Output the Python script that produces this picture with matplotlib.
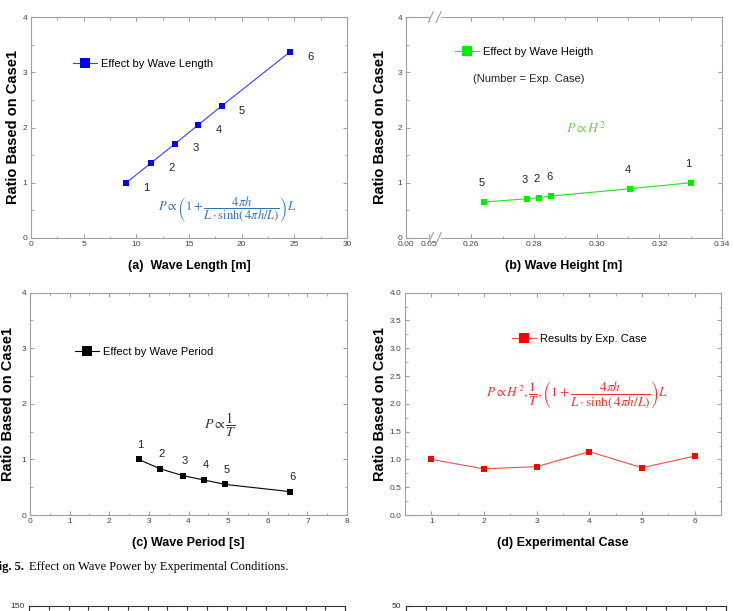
import numpy as np
import matplotlib
matplotlib.use("Agg")
import matplotlib.pyplot as plt
from matplotlib.ticker import MultipleLocator, FixedLocator, FormatStrFormatter

plt.rcParams["font.family"] = ["Liberation Sans", "DejaVu Sans"]
plt.rcParams["mathtext.fontset"] = "stix"

# ---- data ------------------------------------------------------------------
cases = [1, 2, 3, 4, 5, 6]
length = [9.05, 11.4, 13.7, 15.9, 18.1, 24.6]          # m
ratio_length = [1.0, 1.36, 1.71, 2.05, 2.39, 3.37]
height = [0.330, 0.2815, 0.2777, 0.3105, 0.264, 0.2855]  # m, by case
ratio_height = [1.0, 0.73, 0.71, 0.89, 0.65, 0.76]
period = [2.74, 3.29, 3.85, 4.39, 4.93, 6.57]          # s
ratio_period = [1.0, 0.83, 0.71, 0.63, 0.55, 0.42]
ratio_case = [1.0, 0.83, 0.87, 1.14, 0.85, 1.06]

YLABEL = "Ratio Based on Case1"
SPINE = "#a0a0a0"
TICKC = "#444444"
W, H = 733, 611
MS = 4.2


def _style(ax, xlabel, ylab_x):
    for s in ax.spines.values():
        s.set_color(SPINE)
        s.set_linewidth(0.8)
    ax.tick_params(which="both", direction="in", top=True, right=True,
                   color=SPINE, labelcolor=TICKC, labelsize=6, pad=2.5)
    ax.tick_params(which="major", length=3)
    ax.tick_params(which="minor", length=1.8)
    ax.set_ylabel(YLABEL, fontsize=10.5, fontweight="bold")
    ax.yaxis.set_label_coords(ylab_x, 0.5)
    ax.set_xlabel(xlabel, fontsize=9, fontweight="bold")
    ax.xaxis.set_label_coords(0.5, -0.10)


def _legend(ax, x, y):
    ax.legend(loc="center left", bbox_to_anchor=(x, y), frameon=False,
              fontsize=8, handlelength=2.2, handletextpad=0.3,
              borderpad=0, borderaxespad=0, markerscale=1.75)


def _ax(left, top, right, bottom):
    return fig.add_axes([left / W, (H - bottom) / H,
                         (right - left) / W, (bottom - top) / H])


fig = plt.figure(figsize=(W / 100, H / 100), dpi=100)

# (a) wave length
ax = _ax(31, 17, 347, 238)
ax.plot(length, ratio_length, "-s", color="#3c3cff", lw=0.8, ms=MS,
        markerfacecolor="#0000ff", markeredgewidth=0,
        label="Effect by Wave Length")
for c, x, y in zip(cases, length, ratio_length):
    ax.annotate(str(c), (x, y), xytext=(14.5, -3.5), textcoords="offset points",
                ha="center", va="center", fontsize=8, color="#222")
ax.set_xlim(0, 30)
ax.set_ylim(0, 4)
ax.xaxis.set_major_locator(MultipleLocator(5))
ax.xaxis.set_minor_locator(MultipleLocator(2.5))
ax.yaxis.set_major_locator(MultipleLocator(1))
ax.yaxis.set_minor_locator(MultipleLocator(0.5))
_style(ax, "(a)  Wave Length [m]", -0.036)
_legend(ax, 0.133, 0.787)
ax.text(0.62, 0.127,
        r"$P \propto \left(1+\dfrac{4\pi h}{L\cdot\sinh(\,4\pi h/L)}\right)L$",
        transform=ax.transAxes, ha="center", va="center", fontsize=9,
        color="#2E74B5")

# (b) wave height, broken axis between 0.05 and 0.25
bx = [-1.0, 0.0, 0.05, 0.25, 0.34, 1.34]
bu = [-460.0, 0.0, 23.0, 34.0, 316.6, 3456.6]


def _fwd(v):
    return np.interp(v, bx, bu)


def _inv(v):
    return np.interp(v, bu, bx)


ax = _ax(406, 17, 722, 238)
ax.set_xscale("function", functions=(_fwd, _inv))
order = np.argsort(height)
ax.plot(np.array(height)[order], np.array(ratio_height)[order], "-s",
        color="#22e022", lw=0.8, ms=MS, markerfacecolor="#00ee00",
        markeredgewidth=0, label="Effect by Wave Heigth")
for c, x, y in zip(cases, height, ratio_height):
    ax.annotate(str(c), (x, y), xytext=(-1.5, 13.7), textcoords="offset points",
                ha="center", va="center", fontsize=8, color="#222")
ax.set_xlim(0, 0.34)
ax.set_ylim(0, 4)
ax.xaxis.set_major_locator(FixedLocator([0, 0.05, 0.26, 0.28, 0.30, 0.32, 0.34]))
ax.xaxis.set_minor_locator(FixedLocator([0.27, 0.29, 0.31, 0.33]))
ax.xaxis.set_major_formatter(FormatStrFormatter("%.2f"))
ax.yaxis.set_major_locator(MultipleLocator(1))
ax.yaxis.set_minor_locator(MultipleLocator(0.5))
_style(ax, "(b) Wave Height [m]", -0.06)
_legend(ax, 0.155, 0.843)
ax.text(0.212, 0.718, "(Number = Exp. Case)", transform=ax.transAxes,
        ha="left", va="center", fontsize=8, color="#222")
ax.text(0.57, 0.499, r"$P \propto H^2$", transform=ax.transAxes,
        ha="center", va="center", fontsize=10, color="#6FCF4F")
# break marks on top and bottom spines
f0 = _fwd(0.05) / _fwd(0.34)
f1 = _fwd(0.25) / _fwd(0.34)
for yy in (0.0, 1.0):
    ax.plot([f0 + 0.006, f1 - 0.004], [yy, yy], color="white", lw=2.5,
            transform=ax.transAxes, clip_on=False, zorder=5)
    for xx in (f0 + 0.006, f1 - 0.004):
        ax.plot([xx - 0.008, xx + 0.008], [yy - 0.025, yy + 0.025],
                color=SPINE, lw=0.8, transform=ax.transAxes, clip_on=False,
                zorder=6)

# (c) wave period
ax = _ax(30, 292.7, 347, 515)
ax.plot(period, ratio_period, "-s", color="black", lw=0.8, ms=MS,
        markeredgewidth=0, label="Effect by Wave Period")
for c, x, y in zip(cases, period, ratio_period):
    ax.annotate(str(c), (x, y), xytext=(1.2, 10.5), textcoords="offset points",
                ha="center", va="center", fontsize=8, color="#222")
ax.set_xlim(0, 8)
ax.set_ylim(0, 4)
ax.xaxis.set_major_locator(MultipleLocator(1))
ax.xaxis.set_minor_locator(MultipleLocator(0.5))
ax.yaxis.set_major_locator(MultipleLocator(1))
ax.yaxis.set_minor_locator(MultipleLocator(0.5))
_style(ax, "(c) Wave Period [s]", -0.048)
ax.xaxis.set_label_coords(0.5, -0.097)
_legend(ax, 0.142, 0.735)
ax.text(0.6, 0.405, r"$P \propto \dfrac{1}{T}$", transform=ax.transAxes,
        ha="center", va="center", fontsize=10, color="#333333")

# (d) experimental case
ax = _ax(405, 292.7, 721, 515)
ax.plot(cases, ratio_case, "-s", color="#ff4a4a", lw=0.8, ms=MS,
        markerfacecolor="#ff0000", markeredgewidth=0,
        label="Results by Exp. Case")
ax.set_xlim(0.5, 6.5)
ax.set_ylim(0, 4)
ax.xaxis.set_major_locator(MultipleLocator(1))
ax.xaxis.set_minor_locator(MultipleLocator(0.5))
ax.yaxis.set_major_locator(MultipleLocator(0.5))
ax.yaxis.set_minor_locator(MultipleLocator(0.25))
ax.yaxis.set_major_formatter(FormatStrFormatter("%.1f"))
_style(ax, "(d) Experimental Case", -0.057)
ax.xaxis.set_label_coords(0.5, -0.097)
_legend(ax, 0.338, 0.79)
ax.text(0.543, 0.54,
        r"$P \propto H^2, \dfrac{1}{T}, \left(1+\dfrac{4\pi h}{L\cdot\sinh(\,4\pi h/L)}\right)L$",
        transform=ax.transAxes, ha="center", va="center", fontsize=9.5,
        color="#ff2a2a")

# caption (left edge cut off in the reference)
fig.text(-9 / W, (H - 567) / H, r"Fig. 5.", fontsize=9, fontweight="bold",
         family="Liberation Serif", va="center", ha="left")
fig.text(29 / W, (H - 567) / H,
         "Effect on Wave Power by Experimental Conditions.",
         fontsize=9, family="Liberation Serif", va="center", ha="left")

# top edges of the next figure's panels, cut by the page
for left, right, top_lab in ((29, 345, "150"), (406, 726, "50")):
    bx_ = fig.add_axes([left / W, -0.3, (right - left) / W, 0.3 + 5 / H])
    bx_.set_xlim(0, 16)
    bx_.set_ylim(0, float(top_lab))
    bx_.xaxis.set_major_locator(MultipleLocator(1))
    bx_.set_yticks([float(top_lab)])
    bx_.tick_params(direction="in", top=True, bottom=False, labelbottom=False,
                    length=3, labelsize=6, color="#333", labelcolor="#333")
    for s in bx_.spines.values():
        s.set_color("#333")
        s.set_linewidth(0.8)

fig.savefig("out.png", dpi=100)
